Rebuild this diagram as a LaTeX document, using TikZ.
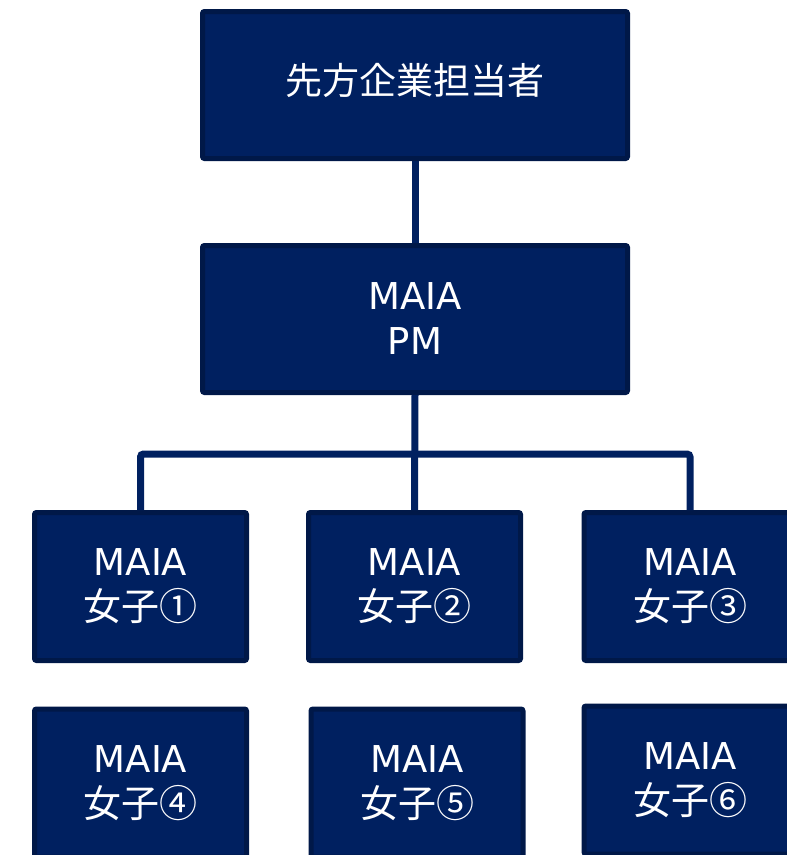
\documentclass[tikz,border=0pt]{standalone}
\usepackage{fontspec}
\setmainfont{DejaVu Sans}
\newfontfamily\cjk{Noto Sans CJK JP}
\definecolor{boxfill}{HTML}{002060}
\definecolor{boxedge}{HTML}{001848}
\begin{document}
\begin{tikzpicture}[x=1pt,y=-1pt,
  box/.style={draw=boxedge,fill=boxfill,line width=5pt,rounded corners=2pt,text=white,
    align=center,font=\fontsize{37}{45}\selectfont,inner sep=0pt},
  big/.style={box,minimum width=425pt,minimum height=147pt},
  small/.style={box,minimum width=212pt,minimum height=148pt},
  conn/.style={draw=boxfill,line width=7pt,rounded corners=3pt}]
\useasboundingbox (0,0) rectangle (787,855);
\coordinate (bar) at (415,454);
\node[big] (top) at (415,85) {\raisebox{5pt}[\height][\depth]{\cjk\fontsize{37}{45}\selectfont 先方企業担当者}};
\node[big] (pm) at (415,319) {MAIA\\PM};
\node[small] (c1) at (140.5,586.5) {MAIA\\{\cjk\fontsize{38}{45}\selectfont 女子①}};
\node[small] (c2) at (414.5,586.5) {MAIA\\{\cjk\fontsize{38}{45}\selectfont 女子②}};
\node[small] (c3) at (690,586.5) {MAIA\\{\cjk\fontsize{38}{45}\selectfont 女子③}};
\node[small] (c4) at (140.5,783) {MAIA\\{\cjk\fontsize{38}{45}\selectfont 女子④}};
\node[small] (c5) at (417,783) {MAIA\\{\cjk\fontsize{38}{45}\selectfont 女子⑤}};
\node[small] (c6) at (690,780) {MAIA\\{\cjk\fontsize{38}{45}\selectfont 女子⑥}};
\draw[conn] (top.south) -- (pm.north);
\draw[conn] (pm.south) -- (c2.north);
\draw[conn] (c1.north) |- (bar) -| (c3.north);
\end{tikzpicture}
\end{document}
